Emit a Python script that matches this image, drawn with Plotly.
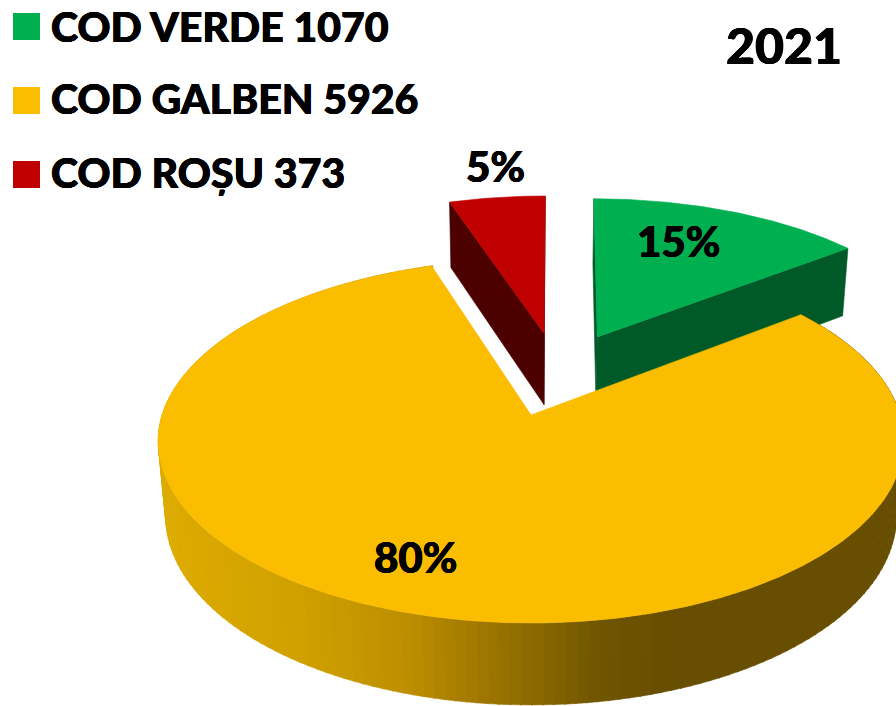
import math
import plotly.graph_objects as go

# ---- data ----
categories = ["COD VERDE", "COD GALBEN", "COD ROȘU"]
values = [1070, 5926, 373]
chart_title = "2021"

# ---- styles ----
top_colors = ["#00B050", "#FBBD00", "#C00000"]
side_colors = ["#005A28", "#674E00", "#4D0000"]
wall_stops = [(157, (222, 172, 0)), (300, (208, 160, 0)), (400, (190, 144, 0)),
              (480, (160, 120, 0)), (530, (140, 106, 0)), (600, (112, 85, 0)),
              (665, (103, 78, 0)), (896, (103, 78, 0))]
FONT = "Lato, Carlito, sans-serif"
THICK = "0.4px 0 0 #000, -0.4px 0 0 #000, 0 0.3px 0 #000"

# camera of the tilted disc (pixels)
OX, OY, A, B, K, DEPTH, SHRINK = 531, 415, 369, 178.3, 0.1429, 76, 0.02
PULL = 0.252
SHEAR = [0.03, 0.015, 0.018]


def proj(i, u, v, z=0):
    w = 1 + K * v + SHRINK * z
    lean = SHEAR[i] * max(B * v / (1 + K * v), 0)
    return OX + lean + A * u / w, OY - (B * v - DEPTH * z) / w


total = sum(values)
spans = []
a0 = 0.0
for val in values:
    a1 = a0 + 360.0 * val / total
    spans.append((a0, a1))
    a0 = a1

mids = [math.radians((s + e) / 2) for s, e in spans]
# the big slice's tip is the camera origin, every slice is pulled out of a common centre
cu = -PULL * math.sin(mids[1])
cv = -PULL * math.cos(mids[1])
tips = [(cu + PULL * math.sin(m), cv + PULL * math.cos(m)) for m in mids]


def rim(i, deg):
    r = math.radians(deg)
    return tips[i][0] + math.sin(r), tips[i][1] + math.cos(r)


def arc(i, step=0.5):
    s, e = spans[i]
    n = max(2, int((e - s) / step))
    return [rim(i, s + (e - s) * j / n) for j in range(n + 1)]


def poly(pts, color):
    xs = [p[0] for p in pts] + [pts[0][0]]
    ys = [p[1] for p in pts] + [pts[0][1]]
    return go.Scatter(x=xs, y=ys, mode="lines", fill="toself", fillcolor=color,
                      line=dict(color=color, width=0.6), hoverinfo="skip", showlegend=False)


def wall_color(x):
    for (x0, c0), (x1, c1) in zip(wall_stops, wall_stops[1:]):
        if x <= x1:
            t = max(0.0, (x - x0) / (x1 - x0))
            return "rgb(%d,%d,%d)" % tuple(round(p + (q - p) * t) for p, q in zip(c0, c1))
    return "rgb(%d,%d,%d)" % wall_stops[-1][1]


fig = go.Figure()

# cut faces of the two small slices
for i in (0, 2):
    for deg in spans[i]:
        t = tips[i]
        r = rim(i, deg)
        fig.add_trace(poly([proj(i, *t), proj(i, *r), proj(i, *r, 1), proj(i, *t, 1)], side_colors[i]))

# top faces of the two small slices
for i in (0, 2):
    fig.add_trace(poly([proj(i, *tips[i])] + [proj(i, *p) for p in arc(i)], top_colors[i]))

# outer wall of the big slice, shaded from left to right
s, e = spans[1]
deg = s
while deg < e:
    nxt = min(deg + 1.5, e)
    p, q = rim(1, deg), rim(1, nxt + 0.2 if nxt < e else nxt)
    quad = [proj(1, *p), proj(1, *q), proj(1, *q, 1), proj(1, *p, 1)]
    fig.add_trace(poly(quad, wall_color(sum(pt[0] for pt in quad) / 4)))
    deg = nxt

# top face of the big slice
fig.add_trace(poly([proj(1, *tips[1])] + [proj(1, *p) for p in arc(1)], top_colors[1]))

# legend
legend_y = [26.5, 100.5, 174.5]
text_y = [26, 98, 172]
fig.add_trace(go.Scatter(x=[26.5] * 3, y=legend_y, mode="markers", hoverinfo="skip", showlegend=False,
                         marker=dict(symbol="square", size=27, color=top_colors, line=dict(width=0))))
annotations = []
for cat, val, y in zip(categories, values, text_y):
    annotations.append(dict(x=49, y=y, text=f"{cat} {val}", xanchor="left", yanchor="middle",
                            showarrow=False,
                            font=dict(family=FONT, size=41, weight=900, color="#000000", shadow=THICK)))

# percentage labels
label_pos = [(678, 241), (415, 557), (495, 166)]
for val, (x, y) in zip(values, label_pos):
    annotations.append(dict(x=x, y=y, text=f"{round(100 * val / total)}%", xanchor="center",
                            yanchor="middle", showarrow=False,
                            font=dict(family=FONT, size=42, weight=900, color="#000000", shadow=THICK)))
annotations.append(dict(x=784, y=45, text=chart_title, xanchor="center", yanchor="middle",
                        showarrow=False,
                        font=dict(family=FONT, size=50, weight=900, color="#000000", shadow=THICK)))

fig.update_layout(
    width=896, height=706, margin=dict(l=0, r=0, t=0, b=0),
    paper_bgcolor="#FFFFFF", plot_bgcolor="#FFFFFF", showlegend=False,
    xaxis=dict(range=[0, 896], visible=False, fixedrange=True),
    yaxis=dict(range=[706, 0], visible=False, fixedrange=True),
    annotations=annotations,
)
fig.write_html("out.html", config={"displayModeBar": False},
               post_script="document.body.style.margin='0';document.body.style.overflow='hidden';")
